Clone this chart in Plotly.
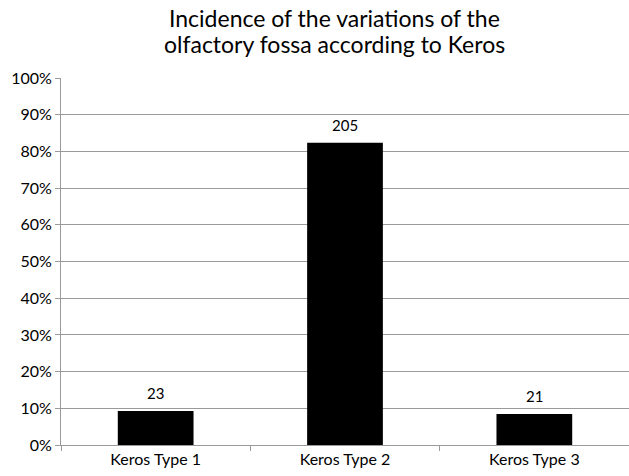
import plotly.graph_objects as go

categories = ["Keros Type 1", "Keros Type 2", "Keros Type 3"]
counts = [23, 205, 21]
total = sum(counts)
shares = [c / total for c in counts]
y_ticks = [i / 10 for i in range(11)]
y_tick_labels = [f"{i*10}%" for i in range(11)]
title_lines = ["Incidence of the variations of the", "olfactory fossa according to Keros"]

FONT = "Lato"
GRID = "#9a9a9a"

fig = go.Figure(go.Bar(
    x=categories, y=shares,
    marker=dict(color="black", line=dict(width=0)),
    width=0.4,
))

for cat, sh, c in zip(categories, shares, counts):
    fig.add_annotation(x=cat, y=sh, text=str(c), showarrow=False,
                       yanchor="middle", yshift=18,
                       font=dict(size=15, color="black", family=FONT))

for line, ypos in zip(title_lines, [1.163, 1.092]):
    fig.add_annotation(
        text=line, xref="paper", yref="paper", x=0.482, y=ypos,
        xanchor="center", yanchor="middle", showarrow=False,
        font=dict(size=23, family=FONT, color="black"))

fig.update_layout(
    width=629, height=476,
    margin=dict(l=61, r=0, t=78, b=31),
    paper_bgcolor="white", plot_bgcolor="white",
    font=dict(family=FONT, size=16, color="black"),
    showlegend=False,
)
fig.update_xaxes(showline=True, linecolor=GRID, linewidth=1,
                 ticks="outside", tickson="boundaries", ticklen=5, tickcolor=GRID,
                 showgrid=False, tickfont=dict(size=16))
fig.update_yaxes(range=[0, 1], tickvals=y_ticks, ticktext=y_tick_labels,
                 showline=True, linecolor=GRID, linewidth=1,
                 ticks="outside", ticklen=5, tickcolor=GRID,
                 showgrid=True, gridcolor=GRID, gridwidth=1,
                 zeroline=False, tickfont=dict(size=16))

fig.write_html("out.html", config={"displayModeBar": False},
               post_script="document.body.style.margin='0';")
